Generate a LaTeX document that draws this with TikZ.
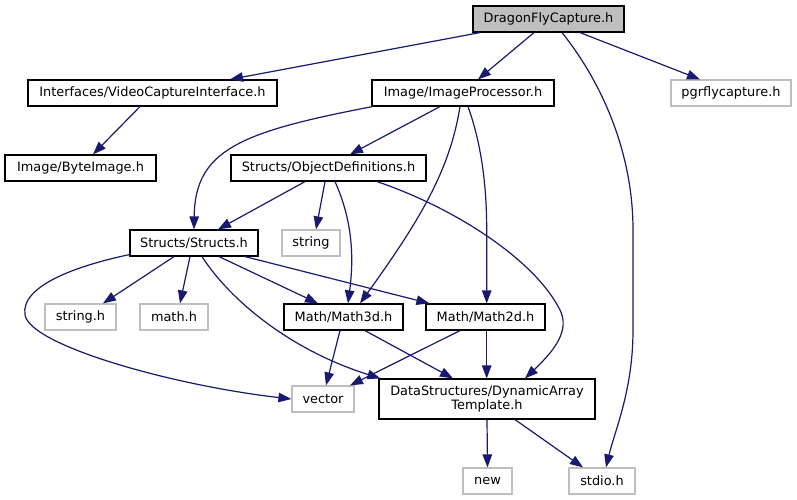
\documentclass[tikz,border=0pt]{standalone}
\usepackage{fontspec}
\setmainfont{DejaVu Sans}
\usetikzlibrary{arrows.meta}
\definecolor{edgeblue}{HTML}{191970}
\definecolor{extgray}{HTML}{BFBFBF}
\tikzset{
  box/.style={draw=black, line width=1.2pt, rectangle, inner sep=0pt, minimum height=26pt, font=\fontsize{12.9}{14.5}\selectfont, align=center},
  extbox/.style={box, draw=extgray},
  rootbox/.style={box, fill=extgray},
  edge/.style={draw=edgeblue, line width=1.2pt, -{Triangle[length=13pt,width=9.5pt]}}
}
\begin{document}
\begin{tikzpicture}[x=1pt,y=-1pt]
\fill[white] (0,0) rectangle (797,500);
\useasboundingbox (0,0) rectangle (797,500);
% nodes
\node[rootbox, minimum width=151pt] (dfc) at (548.5,19) {DragonFlyCapture.h};
\node[box, minimum width=249pt] (vci) at (152.5,93) {Interfaces/VideoCaptureInterface.h};
\node[box, minimum width=151pt] (bi) at (80.5,168) {Image/ByteImage.h};
\node[box, minimum width=182pt] (ip) at (463,93) {Image/ImageProcessor.h};
\node[extbox, minimum width=120pt] (pgr) at (731,93) {pgrflycapture.h};
\node[box, minimum width=195pt] (od) at (328.5,168) {Structs/ObjectDefinitions.h};
\node[box, minimum width=128pt] (st) at (194,243) {Structs/Structs.h};
\node[extbox, minimum width=58pt] (str) at (311,243) {string};
\node[extbox, minimum width=71pt] (strh) at (80.5,317) {string.h};
\node[extbox, minimum width=68pt] (math) at (174,317) {math.h};
\node[box, minimum width=119pt] (m3) at (343.5,317) {Math/Math3d.h};
\node[box, minimum width=119pt] (m2) at (485.5,317) {Math/Math2d.h};
\node[extbox, minimum width=62pt] (vec) at (323,399) {vector};
\node[box, minimum width=216pt, minimum height=40pt] (dat) at (487,399) {DataStructures/DynamicArray\\Template.h};
\node[extbox, minimum width=49pt] (new) at (487.5,481) {new};
\node[extbox, minimum width=66pt] (stdio) at (602,481) {stdio.h};
% straight edges
\draw[edge] ([xshift=-68.5pt]dfc.south) -- ([xshift=77.5pt]vci.north);
\draw[edge] ([xshift=-14.5pt]dfc.south) -- ([xshift=15pt]ip.north);
\draw[edge] ([xshift=31.5pt]dfc.south) -- ([xshift=-31pt]pgr.north);
\draw[edge] ([xshift=-12.5pt]vci.south) -- ([xshift=12.5pt]bi.north);
\draw[edge] ([xshift=-23pt]ip.south) -- ([xshift=21.5pt]od.north);
\draw[edge] ([xshift=-23.5pt]od.south) -- ([xshift=24pt]st.north);
\draw[edge] ([xshift=-3.5pt]od.south) -- ([xshift=5pt]str.north);
\draw[edge] ([xshift=-20pt]st.south) -- ([xshift=22.5pt]strh.north);
\draw[edge] ([xshift=-4pt]st.south) -- ([xshift=6pt]math.north);
\draw[edge] ([xshift=25pt]st.south) -- ([xshift=-25.5pt]m3.north);
\draw[edge] ([xshift=51pt]st.south) -- ([xshift=4pt]m2.north west);
\draw[edge] ([xshift=-3.5pt]m3.south) -- ([xshift=3pt]vec.north);
\draw[edge] ([xshift=21.5pt]m3.south) -- ([xshift=-34pt]dat.north);
\draw[edge] ([xshift=-25.5pt]m2.south) -- ([xshift=27pt]vec.north);
\draw[edge] ([xshift=1.2pt]m2.south) -- ([xshift=-0.3pt]dat.north);
\draw[edge] (dat.south) -- (new.north);
\draw[edge] ([xshift=28pt]dat.south) -- ([xshift=-19pt]stdio.north);
% curved edges
\draw[edge] ([xshift=13.5pt]dfc.south) .. controls (600,80) and (633,150) .. (633,230) -- (633,330) .. controls (633,390) and (615,430) .. ([xshift=4pt]stdio.north);
\draw[edge] ([xshift=1pt]ip.south west) .. controls (240,132) and (195,150) .. (st.north);
\draw[edge] ([xshift=-3pt]ip.south) .. controls (450,170) and (420,220) .. ([xshift=16.5pt]m3.north);
\draw[edge] ([xshift=5pt]ip.south) .. controls (480,140) and (486.7,180) .. (486.7,230) -- ([xshift=1.2pt]m2.north);
\draw[edge] ([xshift=6.5pt]od.south) .. controls (350,215) and (355,250) .. ([xshift=4.5pt]m3.north);
\draw[edge] ([xshift=48.5pt]od.south) .. controls (455,208) and (535,260) .. (560,310) .. controls (570,330) and (555,350) .. ([xshift=38pt]dat.north);
\draw[edge] ([yshift=2pt]st.south west) .. controls (80,265) and (20,285) .. (25,315) .. controls (30,345) and (170,385) .. (vec.west);
\draw[edge] ([xshift=8pt]st.south) .. controls (230,300) and (290,350) .. ([xshift=2pt]dat.north west);
\end{tikzpicture}
\end{document}
